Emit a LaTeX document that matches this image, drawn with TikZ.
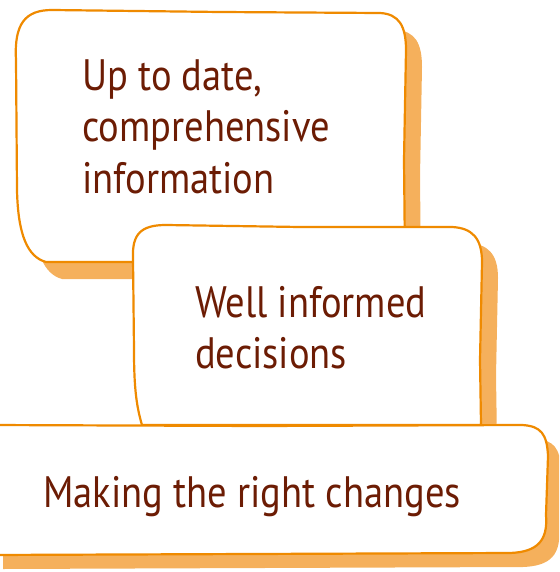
\documentclass[tikz,border=0pt]{standalone}
\usepackage{fontspec}
\setmainfont[FakeStretch=0.875]{PT Sans}
\definecolor{edgeorange}{RGB}{239,138,0}
\definecolor{shadeorange}{RGB}{245,176,92}
\definecolor{textbrown}{RGB}{108,28,4}
\newcommand\outlineInfo{(16,60) .. controls (14,24) and (25,10) .. (52,10) -- (220,12) -- (380,13) .. controls (399,14) and (406,26) .. (406,50) -- (404,160) -- (405,262) -- (46,262) .. controls (28,257) and (18,236) .. (17,190) -- cycle}
\newcommand\outlineDecide{(133,258) .. controls (132,234) and (141,225) .. (166,225) -- (300,227) -- (452,227) .. controls (472,228) and (482,238) .. (482,262) -- (480,360) -- (481,425) -- (142,425) .. controls (136,405) and (134,385) .. (134,350) -- cycle}
\newcommand\outlineChange{(-10,425) -- (260,426) -- (522,425) .. controls (541,426) and (547,434) .. (548,456) -- (546,515) .. controls (548,540) and (538,552) .. (510,553) -- (250,554) -- (-10,555) -- cycle}

\begin{document}
\begin{tikzpicture}[x=1pt,y=-1pt,
  dropshade/.style={fill=shadeorange},
  sketchbox/.style={draw=edgeorange,line width=2.2pt,fill=white,line join=round},
  lbl/.style={font=\fontsize{44}{51}\selectfont,text=textbrown,align=left,anchor=base west,inner sep=0pt}]
  \useasboundingbox (0,0) rectangle (559,572);
  \clip (0,0) rectangle (559,572);
  \fill[dropshade,shift={(16,17)}] \outlineInfo;
  \path[sketchbox] \outlineInfo;
  \fill[dropshade,shift={(16,16)}] \outlineDecide;
  \path[sketchbox] \outlineDecide;
  \fill[dropshade,shift={(13,14)}] \outlineChange;
  \path[sketchbox] \outlineChange;
  \node[lbl] (info) at (82,193) {Up to date,\\comprehensive\\information};
  \node[lbl] (decide) at (195,368) {Well informed\\decisions};
  \node[lbl] (change) at (43,507) {Making the right changes};
\end{tikzpicture}
\end{document}
